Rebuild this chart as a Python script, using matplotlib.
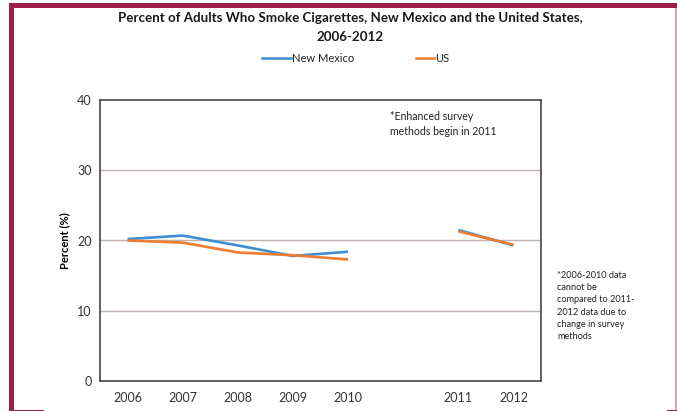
import matplotlib
matplotlib.use("Agg")
import matplotlib.pyplot as plt
from matplotlib.lines import Line2D
from matplotlib.patches import Rectangle

# Data: survey years (a blank slot separates the two survey-method periods)
years = ["2006", "2007", "2008", "2009", "2010", "", "2011", "2012"]
nm_early = [20.2, 20.7, 19.3, 17.8, 18.4]
us_early = [20.0, 19.7, 18.3, 17.9, 17.3]
nm_late = [21.5, 19.3]
us_late = [21.3, 19.4]
y_ticks = [0, 10, 20, 30, 40]

FONT = ["Lato", "DejaVu Sans"]
plt.rcParams["font.family"] = FONT

W, H = 677, 411
fig = plt.figure(figsize=(W / 100, H / 100), dpi=100)
fig.patch.set_facecolor("white")

# Page frame
maroon = "#9e1f48"
fig.patches.append(Rectangle((9 / W, 0), 5 / W, 1 - 3 / H, transform=fig.transFigure,
                             facecolor=maroon, edgecolor="none"))
fig.patches.append(Rectangle((9 / W, 1 - 8 / H), 1, 5 / H, transform=fig.transFigure,
                             facecolor=maroon, edgecolor="none"))
fig.patches.append(Rectangle((675 / W, 0), 1.5 / W, 1 - 8 / H, transform=fig.transFigure,
                             facecolor="#d9a3b8", edgecolor="none"))
fig.patches.append(Rectangle((14 / W, 0), 30 / W, 1.2 / H, transform=fig.transFigure,
                             facecolor=maroon, edgecolor="none"))
fig.patches.append(Rectangle((667 / W, 0), 10 / W, 1.2 / H, transform=fig.transFigure,
                             facecolor=maroon, edgecolor="none"))

ax = fig.add_axes([100 / W, (H - 381) / H, 441 / W, 281 / H])
blue = "#3d8fd1"
orange = "#ee7d31"

x_early = list(range(5))
x_late = [6, 7]
ax.plot(x_early, nm_early, color=blue, lw=1.9, solid_capstyle="butt", zorder=3)
ax.plot(x_early, us_early, color=orange, lw=1.9, solid_capstyle="butt", zorder=3)
ax.plot(x_late, nm_late, color=blue, lw=1.9, solid_capstyle="butt", zorder=3)
ax.plot(x_late, us_late, color=orange, lw=1.9, solid_capstyle="butt", zorder=3)

ax.set_xlim(-0.5, 7.5)
ax.set_ylim(0, 40)
ax.set_yticks(y_ticks)
ax.set_yticklabels([str(v) for v in y_ticks], fontsize=9, color="#333333")
ax.set_xticks(range(len(years)))
ax.set_xticklabels(years, fontsize=9, color="#333333")
ax.tick_params(axis="x", length=0, pad=8)
ax.tick_params(axis="y", length=0, pad=6)
for v in y_ticks[1:-1]:
    ax.axhline(v, color="#bdb2ad", lw=1.0, zorder=1)
for s in ax.spines.values():
    s.set_color("#4a4442")
    s.set_linewidth(1.2)

ax.set_ylabel("Percent (%)", fontsize=8, fontweight="bold", labelpad=5)

# Title
fig.text(350 / W, 1 - 18 / H, "Percent of Adults Who Smoke Cigarettes, New Mexico and the United States,",
         ha="center", va="center", fontsize=9.6, fontweight="bold", color="#1a1a1a")
fig.text(350 / W, 1 - 37 / H, "2006-2012", ha="center", va="center",
         fontsize=9.6, fontweight="bold", color="#1a1a1a")

# Legend
fig.add_artist(Line2D([262 / W, 291 / W], [1 - 58 / H, 1 - 58 / H], color=blue, lw=1.8,
                      transform=fig.transFigure))
fig.text(292 / W, 1 - 58 / H, "New Mexico", ha="left", va="center", fontsize=8, color="#222222")
fig.add_artist(Line2D([416 / W, 434 / W], [1 - 58 / H, 1 - 58 / H], color=orange, lw=1.8,
                      transform=fig.transFigure))
fig.text(435 / W, 1 - 58 / H, "US", ha="left", va="center", fontsize=8, color="#222222")

# Notes
fig.text(390 / W, 1 - 124 / H, "*Enhanced survey\nmethods begin in 2011", ha="left", va="center",
         fontsize=7.6, color="#222222", linespacing=1.35)
fig.text(557 / W, 1 - 306 / H,
         "*2006-2010 data\ncannot be\ncompared to 2011-\n2012 data due to\nchange in survey\nmethods",
         ha="left", va="center", fontsize=6.6, color="#222222", linespacing=1.45)

fig.savefig("out.png", dpi=100, facecolor="white")
